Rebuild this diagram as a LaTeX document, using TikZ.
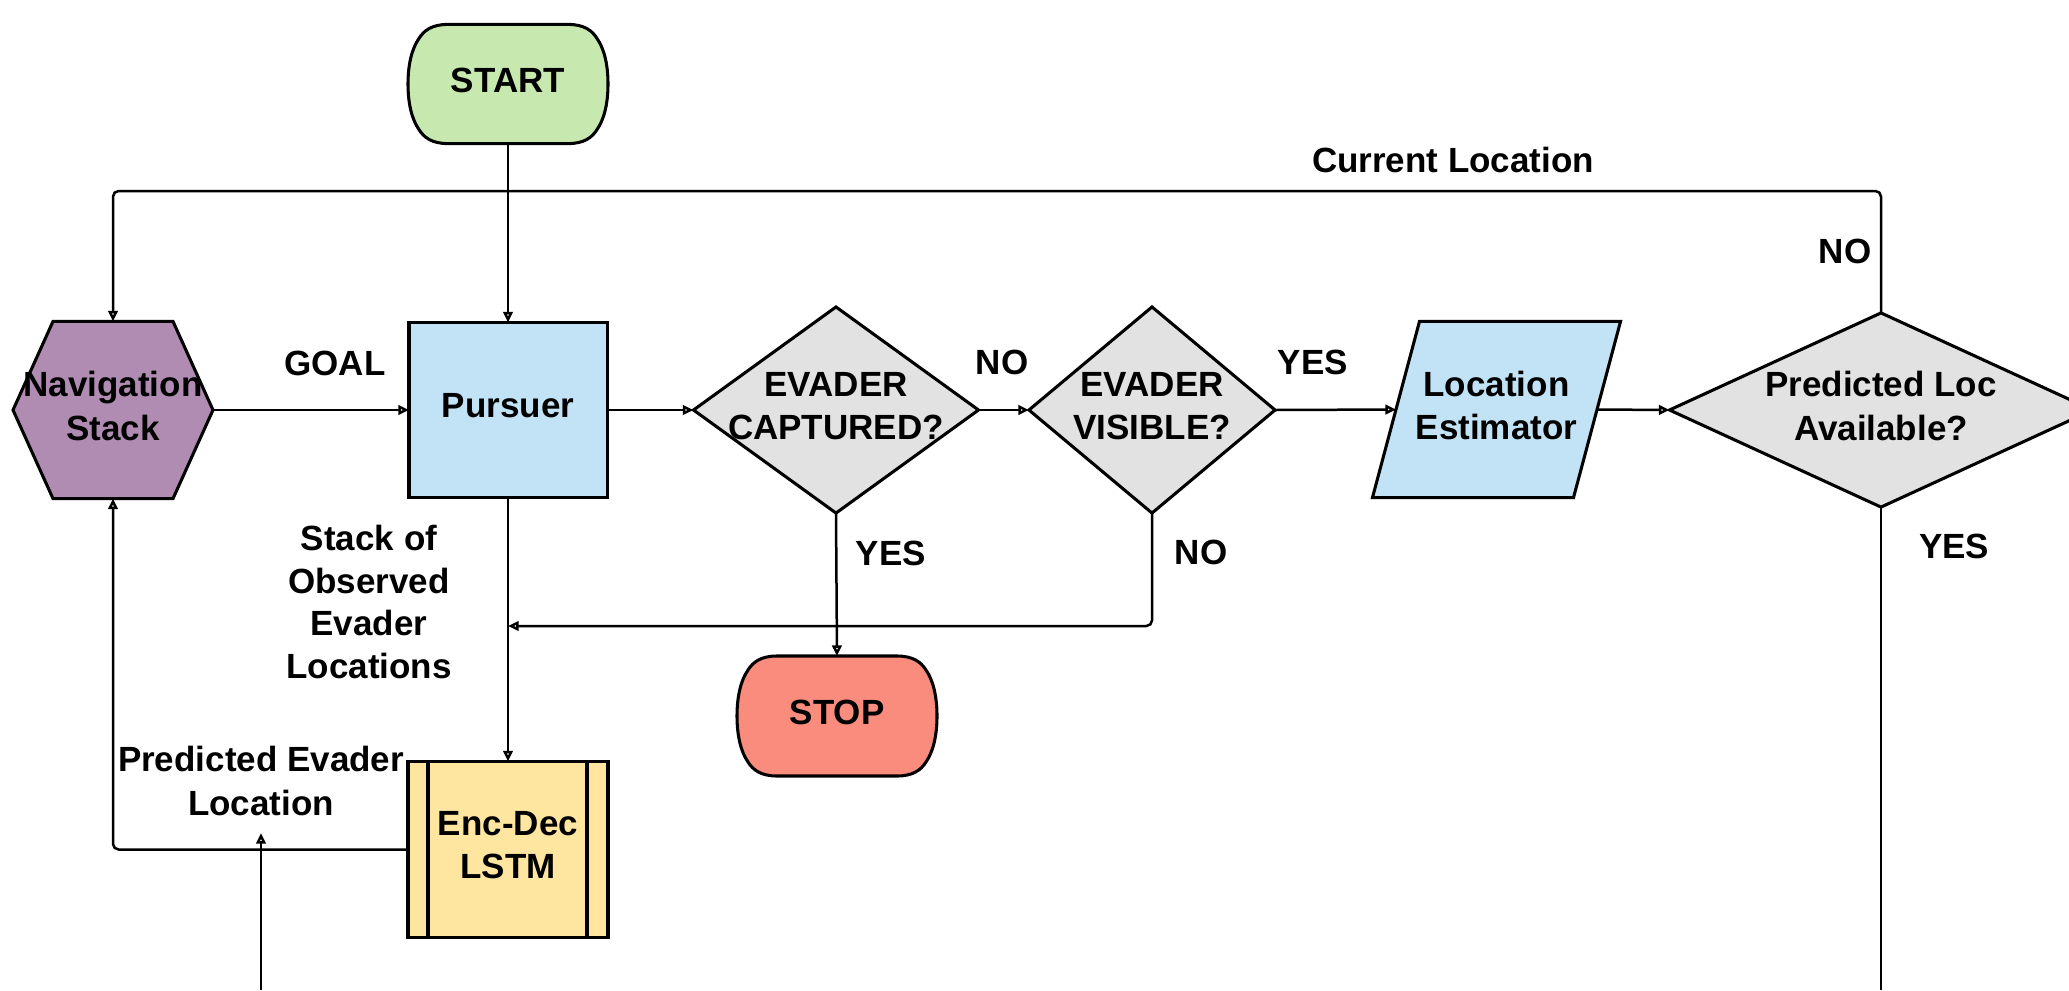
\documentclass[tikz,border=0pt]{standalone}
\usepackage{fontspec}
\setmainfont{Liberation Sans}
\usetikzlibrary{arrows.meta,calc,backgrounds}
\definecolor{cgreen}{RGB}{199,233,176}
\definecolor{cblue}{RGB}{194,227,245}
\definecolor{cpurple}{RGB}{176,139,178}
\definecolor{cgray}{RGB}{226,226,226}
\definecolor{cred}{RGB}{249,140,124}
\definecolor{cyellow}{RGB}{255,230,160}
\begin{document}
\begin{tikzpicture}[x=0.36pt,y=-0.36pt,
  every node/.style={font=\fontsize{12.6}{15.5}\selectfont\bfseries, align=center, inner sep=0pt},
  box/.style={text depth=3pt},
  shp/.style={line width=1.1pt, draw=black},
  conn/.style={line width=0.9pt, rounded corners=2pt},
  arr/.style={conn, -{Triangle[open,length=3.8pt,width=3.4pt]}}]
\useasboundingbox (0,0) rectangle (2069,990);
\clip (0,0) rectangle (2069,990);

% nodes
\node[box, minimum width=71.6pt, minimum height=42.5pt] (start) at (508,84) {START};
\node[box, minimum width=70.9pt, minimum height=62.6pt] (pursuer) at (508,410) {Pursuer};
\node[box, minimum width=71.6pt, minimum height=63.4pt] (nav) at (113,410) {Navigation\\Stack};
\node[box, minimum width=102.2pt, minimum height=73.8pt] (d1) at (836,410) {EVADER\\CAPTURED?};
\node[box, minimum width=88.2pt, minimum height=73.8pt] (d2) at (1152,410) {EVADER\\VISIBLE?};
\node[box, minimum width=88.9pt, minimum height=63pt] (loc) at (1496.5,409.5) {Location\\Estimator};
\node[box, minimum width=151.9pt, minimum height=69.5pt] (d3) at (1881,410) {Predicted Loc\\Available?};
\node[box, minimum width=71.6pt, minimum height=42.8pt] (stop) at (837,716) {STOP};
\node[box, minimum width=71.6pt, minimum height=63pt] (enc) at (508,849.5) {Enc-Dec\\LSTM};

% shapes
\begin{scope}[on background layer]
  \filldraw[shp, fill=cgreen] ($(start.north west)+(40,0)$) -- ($(start.north east)+(-40,0)$)
    .. controls ($(start.north east)+(-24,0)$) and ($(start.north east)+(-16,6)$) .. ($(start.north east)+(-11,14)$)
    .. controls ($(start.north east)+(-4,24)$) and ($(start.east)+(0,-20)$) .. (start.east)
    .. controls ($(start.east)+(0,20)$) and ($(start.south east)+(-4,-24)$) .. ($(start.south east)+(-11,-14)$)
    .. controls ($(start.south east)+(-16,-6)$) and ($(start.south east)+(-24,0)$) .. ($(start.south east)+(-40,0)$)
    -- ($(start.south west)+(40,0)$)
    .. controls ($(start.south west)+(24,0)$) and ($(start.south west)+(16,-6)$) .. ($(start.south west)+(11,-14)$)
    .. controls ($(start.south west)+(4,-24)$) and ($(start.west)+(0,20)$) .. (start.west)
    .. controls ($(start.west)+(0,-20)$) and ($(start.north west)+(4,24)$) .. ($(start.north west)+(11,14)$)
    .. controls ($(start.north west)+(16,6)$) and ($(start.north west)+(24,0)$) .. cycle;
  \filldraw[shp, fill=cred] ($(stop.north west)+(40,0)$) -- ($(stop.north east)+(-40,0)$)
    .. controls ($(stop.north east)+(-24,0)$) and ($(stop.north east)+(-16,6)$) .. ($(stop.north east)+(-11,14)$)
    .. controls ($(stop.north east)+(-4,24)$) and ($(stop.east)+(0,-20)$) .. (stop.east)
    .. controls ($(stop.east)+(0,20)$) and ($(stop.south east)+(-4,-24)$) .. ($(stop.south east)+(-11,-14)$)
    .. controls ($(stop.south east)+(-16,-6)$) and ($(stop.south east)+(-24,0)$) .. ($(stop.south east)+(-40,0)$)
    -- ($(stop.south west)+(40,0)$)
    .. controls ($(stop.south west)+(24,0)$) and ($(stop.south west)+(16,-6)$) .. ($(stop.south west)+(11,-14)$)
    .. controls ($(stop.south west)+(4,-24)$) and ($(stop.west)+(0,20)$) .. (stop.west)
    .. controls ($(stop.west)+(0,-20)$) and ($(stop.north west)+(4,24)$) .. ($(stop.north west)+(11,14)$)
    .. controls ($(stop.north west)+(16,6)$) and ($(stop.north west)+(24,0)$) .. cycle;
  \filldraw[shp, fill=cblue] (pursuer.north west) rectangle (pursuer.south east);
  \filldraw[shp, fill=cpurple] (nav.west) -- ($(nav.north)+(-60,0)$) -- ($(nav.north)+(60,0)$)
    -- (nav.east) -- ($(nav.south)+(60,0)$) -- ($(nav.south)+(-60,0)$) -- cycle;
  \filldraw[shp, fill=cgray] (d1.west) -- (d1.north) -- (d1.east) -- (d1.south) -- cycle;
  \filldraw[shp, fill=cgray] (d2.west) -- (d2.north) -- (d2.east) -- (d2.south) -- cycle;
  \filldraw[shp, fill=cgray] (d3.west) -- (d3.north) -- (d3.east) -- (d3.south) -- cycle;
  \filldraw[shp, fill=cblue] ($(loc.north west)+(47,0)$) -- (loc.north east)
    -- ($(loc.south east)+(-47,0)$) -- (loc.south west) -- cycle;
  \filldraw[shp, fill=cyellow] (enc.north west) rectangle (enc.south east);
  \draw[shp] ($(enc.north west)+(20,0)$) -- ($(enc.south west)+(20,0)$);
  \draw[shp] ($(enc.north east)+(-21,0)$) -- ($(enc.south east)+(-21,0)$);
\end{scope}

% coordinates
\coordinate (join) at (508,626);
\coordinate (b1) at (261,990);
\coordinate (b1t) at (261,833);
\coordinate (b2) at (1881,990);

% connectors
\draw[arr] (start.south) -- (pursuer.north);
\draw[arr] (d3.north) -- (d3.north |- 0,191) -| (nav.north);
\draw[arr] (nav.east) -- (pursuer.west);
\draw[arr] (pursuer.east) -- (d1.west);
\draw[arr] (d1.east) -- (d2.west);
\draw[arr] (d2.east) -- ($(loc.west)+(23.5,0)$);
\draw[arr] ($(loc.east)+(-23.5,0)$) -- (d3.west);
\draw[arr] (d1.south) -- (stop.north);
\draw[arr] (d2.south) |- (join);
\draw[arr] (pursuer.south) -- (enc.north);
\draw[arr] (enc.west) -| (nav.south);
\draw[arr] (b1) -- (b1t);
\draw[conn] (d3.south) -- (b2);

% labels
\node (lgoal) at (335,363) {GOAL};
\node (lno1) at (1002,362) {NO};
\node (lyes1) at (1313,362) {YES};
\node (lcur) at (1453,160) {Current Location};
\node (lno2) at (1845,251) {NO};
\node (lyes2) at (891,553) {YES};
\node (lno3) at (1201,552) {NO};
\node (lyes3) at (1954,546) {YES};
\node[font=\fontsize{12.6}{15.4}\selectfont\bfseries] (lstack) at (369,602) {Stack of\\Observed\\Evader\\Locations};
\node (lpred) at (261,781) {Predicted Evader\\Location};
\end{tikzpicture}
\end{document}
